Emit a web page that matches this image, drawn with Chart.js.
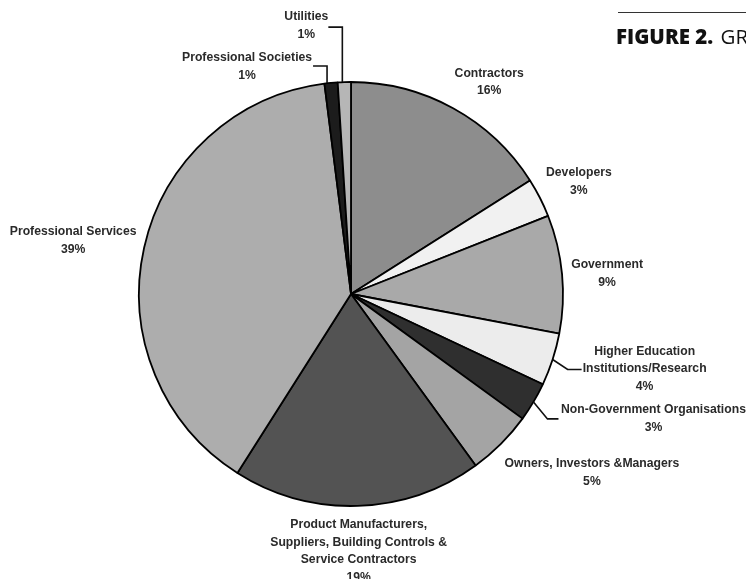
<!DOCTYPE html>
<html>
<head>
<meta charset="utf-8">
<script src="https://cdn.jsdelivr.net/npm/chart.js@4"></script>
<style>
  html, body { margin: 0; padding: 0; background: #fff; }
  #wrap { position: relative; width: 746px; height: 579px; overflow: hidden; }
  #rule { position: absolute; left: 618px; top: 12px; width: 140px; height: 0; border-top: 1.5px solid #333; }
  #fig { position: absolute; left: 616px; top: 22px; white-space: nowrap; font-family: "Open Sans", sans-serif; font-size: 20.5px; color: #111; }
  #fig b { font-weight: 800; }
  #fig span { margin-left: 2px; }
</style>
</head>
<body>
<div id="wrap">
  <canvas id="pie" width="746" height="579"></canvas>
  <div id="rule"></div>
  <div id="fig"><b>FIGURE 2.</b><span> GR</span></div>
</div>
<script>
// Categories, clockwise from 12 o'clock
const categories = [
  'Contractors',
  'Developers',
  'Government',
  'Higher Education Institutions/Research',
  'Non-Government Organisations',
  'Owners, Investors &Managers',
  'Product Manufacturers, Suppliers, Building Controls & Service Contractors',
  'Professional Services',
  'Professional Societies',
  'Utilities'
];
// Share of respondents (%)
const shares = [16, 3, 9, 4, 3, 5, 19, 39, 1, 1];

// How each category label is broken into lines on the chart
const labelLines = [
  ['Contractors'],
  ['Developers'],
  ['Government'],
  ['Higher Education', 'Institutions/Research'],
  ['Non-Government Organisations'],
  ['Owners, Investors &Managers'],
  ['Product Manufacturers,', 'Suppliers, Building Controls &', 'Service Contractors'],
  ['Professional Services'],
  ['Professional Societies'],
  ['Utilities']
];

const greys = ['#8d8d8d', '#f1f1f1', '#a9a9a9', '#ececec', '#2f2f2f', '#a4a4a4', '#535353', '#adadad', '#1c1c1c', '#b6b6b6'];

// label offset from the outer mid point of each slice, plus optional leader line
const labelPlace = [
  { dx: 36, dy: -35 },
  { dx: 39, dy: -25 },
  { dx: 45, dy: -9 },
  { dx: 92, dy: -8, leader: [[0, 0], [15, 10], [29, 10]] },
  { dx: 120, dy: 8, leader: [[0, 0], [14, 17], [25, 17]] },
  { dx: 91, dy: 20 },
  { dx: 1, dy: 19 },
  { dx: -71, dy: -16 },
  { dx: -84, dy: -25, leader: [[-4, 0], [-4, -17], [-18, -17]] },
  { dx: -38, dy: -65, leader: [[-2, 0], [-2, -55], [-16, -55]] }
];

const sliceLabels = {
  id: 'sliceLabels',
  afterDatasetsDraw(chart) {
    const ctx = chart.ctx;
    const arcs = chart.getDatasetMeta(0).data;
    ctx.save();
    ctx.font = 'bold 12.2px "Liberation Sans", Arial, sans-serif';
    ctx.fillStyle = '#2a2a2a';
    ctx.strokeStyle = '#111';
    ctx.lineWidth = 1.6;
    ctx.textAlign = 'center';
    ctx.textBaseline = 'middle';
    arcs.forEach((arc, i) => {
      const p = arc.getProps(['x', 'y', 'startAngle', 'endAngle', 'outerRadius'], true);
      const mid = (p.startAngle + p.endAngle) / 2;
      const ex = p.x + Math.cos(mid) * p.outerRadius;
      const ey = p.y + Math.sin(mid) * p.outerRadius;
      const place = labelPlace[i];
      if (place.leader) {
        ctx.beginPath();
        place.leader.forEach(([lx, ly], k) => {
          if (k === 0) ctx.moveTo(ex + lx, ey + ly);
          else ctx.lineTo(ex + lx, ey + ly);
        });
        ctx.stroke();
      }
      const lines = labelLines[i].concat([shares[i] + '%']);
      const tx = ex + place.dx;
      let ty = ey + place.dy;
      lines.forEach(line => {
        ctx.fillText(line, tx, ty);
        ty += 17.5;
      });
    });
    ctx.restore();
  }
};

new Chart(document.getElementById('pie'), {
  type: 'pie',
  data: {
    labels: categories,
    datasets: [{
      data: shares,
      backgroundColor: greys,
      borderColor: '#000',
      borderWidth: 1.8
    }]
  },
  options: {
    responsive: false,
    animation: false,
    radius: 212,
    layout: { padding: { left: 100, right: 144, top: 80, bottom: 71 } },
    plugins: {
      legend: { display: false },
      tooltip: { enabled: false }
    }
  },
  plugins: [sliceLabels]
});
</script>
</body>
</html>
